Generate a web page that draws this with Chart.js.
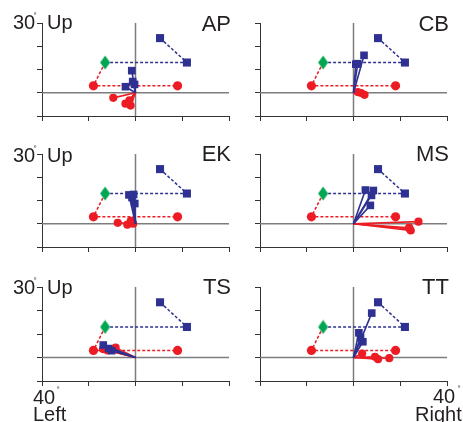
<!DOCTYPE html>
<html><head><meta charset="utf-8">
<script src="https://cdn.jsdelivr.net/npm/chart.js@4.4.1/dist/chart.umd.min.js"></script>
<style>
body{margin:0;background:#fff;width:463px;height:422px;overflow:hidden;position:relative;font-family:"Liberation Sans",Arial,sans-serif;color:#231f20}
canvas{position:absolute}
.t{position:absolute;white-space:nowrap;line-height:1}
</style></head><body>
<script>
// ---- data ----
const PANEL_NAMES = ['AP', 'CB', 'EK', 'MS', 'TS', 'TT'];
const X_RANGE = [-40, 40];
const X_STEP = 20;
const Y_RANGE = [-10, 30];
const Y_STEP = 10;
const ORIGIN = [0, 0];
const START_POS = [-13, 13];                 // green diamond
const BLUE_TARGETS = [[22, 13], [10.5, 23.5]];
const RED_TARGETS = [[-18, 3], [18, 3]];

const AP_BLUE = [[-1.6, 9.5], [-4.3, 2.6], [-0.4, 3.6], [-1.2, 4.8]];
const AP_RED  = [[-9.5, -2.2], [-4.3, -4.7], [-2.1, -5.5], [-2.6, -3.3]];
const CB_BLUE = [[4.5, 16.1], [1.8, 12.5], [1.0, 12.3]];
const CB_RED  = [[1.8, 0.3], [3.3, -0.1], [4.7, -0.9]];
const EK_BLUE = [[-2.8, 12.4], [-0.8, 12.6], [-0.3, 8.7], [-1.5, 11.3]];
const EK_RED  = [[-7.6, 0.4], [-3.5, -0.4], [-2.0, 1.3], [-1.0, 0.0]];
const MS_BLUE = [[5.1, 14.5], [8.5, 14.3], [7.7, 12.2], [7.2, 7.9]];
const MS_RED  = [[27.8, 0.9], [23.8, -1.7], [24.5, -2.9], [24.0, -2.2]];
const TS_BLUE = [[-13.8, 5.3], [-10.2, 2.9], [-11.5, 3.8]];
const TS_RED  = [[-13.9, 3.6], [-8.5, 4.2], [-12.0, 3.0]];
const TT_BLUE = [[7.8, 18.9], [2.3, 10.5], [4.0, 6.7], [3.0, 8.5]];
const TT_RED  = [[3.7, 1.7], [9.2, 0.3], [10.5, -0.7], [15.3, -0.3]];

const BLUE_SETS = [AP_BLUE, CB_BLUE, EK_BLUE, MS_BLUE, TS_BLUE, TT_BLUE];
const RED_SETS  = [AP_RED, CB_RED, EK_RED, MS_RED, TS_RED, TT_RED];

// ---- styling / layout ----
const RED = '#ed1c24', BLUE = '#2e3192', GREEN = '#00a651';
const PLOT_W = 188;
const COL_LEFT = [42, 260];
const ROW_TOP = [23, 154, 287];
const ROW_H = [93, 93, 94];

const pt = a => ({x: a[0], y: a[1]});

// diamond marker
const diamond = document.createElement('canvas');
diamond.width = 11; diamond.height = 15;
(() => {
  const g = diamond.getContext('2d');
  g.fillStyle = GREEN;
  g.beginPath(); g.moveTo(5.5, 0.5); g.lineTo(10.5, 7.5); g.lineTo(5.5, 14.5); g.lineTo(0.5, 7.5); g.closePath(); g.fill();
})();

const zeroLines = {
  id: 'zeroLines',
  beforeDatasetsDraw(chart) {
    const {ctx, chartArea: a, scales: {x, y}} = chart;
    const px = x.getPixelForValue(ORIGIN[0]), py = y.getPixelForValue(ORIGIN[1]);
    ctx.save();
    ctx.strokeStyle = '#7d7d7d'; ctx.lineWidth = 1.5;
    ctx.beginPath();
    ctx.moveTo(px, a.top); ctx.lineTo(px, a.bottom);
    ctx.moveTo(a.left, py); ctx.lineTo(a.right, py);
    ctx.stroke();
    ctx.restore();
  }
};

function makeChart(i) {
  const col = i % 2, row = Math.floor(i / 2);
  const L = COL_LEFT[col], T = ROW_TOP[row], H = ROW_H[row];
  const cw = PLOT_W + 16, ch = H + 16;
  const c = document.createElement('canvas');
  c.width = cw; c.height = ch;
  c.style.left = (L - 10) + 'px'; c.style.top = (T - 8) + 'px';
  c.style.width = cw + 'px'; c.style.height = ch + 'px';
  document.body.appendChild(c);

  const ds = [];
  ds.push({data: [pt(START_POS), pt(RED_TARGETS[0]), pt(RED_TARGETS[1])], showLine: true,
    borderColor: RED, borderWidth: 1.5, borderDash: [3, 2], pointRadius: [0, 4.6, 4.6],
    pointStyle: 'circle', pointBackgroundColor: RED, pointBorderWidth: 0, order: 10});
  ds.push({data: [pt(START_POS), pt(BLUE_TARGETS[0]), pt(BLUE_TARGETS[1])], showLine: true,
    borderColor: BLUE, borderWidth: 1.5, borderDash: [3, 2], pointRadius: [0, 5.7, 5.7],
    pointStyle: 'rect', pointBackgroundColor: BLUE, pointBorderWidth: 0, order: 9});
  RED_SETS[i].forEach(r => ds.push({data: [pt(ORIGIN), pt(r)], showLine: true,
    borderColor: RED, borderWidth: 1.6, pointRadius: [0, 4.1], pointStyle: 'circle',
    pointBackgroundColor: RED, pointBorderWidth: 0, order: 6}));
  BLUE_SETS[i].forEach(b => ds.push({data: [pt(ORIGIN), pt(b)], showLine: true,
    borderColor: BLUE, borderWidth: 1.6, pointRadius: [0, 5.4], pointStyle: 'rect',
    pointBackgroundColor: BLUE, pointBorderWidth: 0, order: 5}));
  ds.push({data: [pt(START_POS)], pointStyle: diamond, pointRadius: 6, order: 1});

  new Chart(c, {
    type: 'scatter',
    data: {datasets: ds},
    options: {
      responsive: false, animation: false, devicePixelRatio: 1,
      layout: {padding: {left: 5, top: 8, right: 6, bottom: 3}},
      plugins: {legend: {display: false}, tooltip: {enabled: false}},
      scales: {
        x: {type: 'linear', min: X_RANGE[0], max: X_RANGE[1],
          ticks: {display: false, stepSize: X_STEP},
          grid: {drawOnChartArea: false, drawTicks: true, tickLength: 5, color: '#333', lineWidth: 1},
          border: {display: true, color: '#333', width: 1},
          afterFit(s) { s.height = 5; }},
        y: {type: 'linear', min: Y_RANGE[0], max: Y_RANGE[1],
          ticks: {display: false, stepSize: Y_STEP},
          grid: {drawOnChartArea: false, drawTicks: true, tickLength: 5, color: '#333', lineWidth: 1},
          border: {display: true, color: '#333', width: 1},
          afterFit(s) { s.width = 5; }}
      }
    },
    plugins: [zeroLines]
  });
}

function text(str, x, base, size, align) {
  const d = document.createElement('div');
  d.className = 't';
  d.textContent = str;
  d.style.fontSize = size + 'px';
  d.style.top = (base - 0.8465 * size) + 'px';
  if (align === 'right') d.style.right = (463 - x) + 'px';
  else d.style.left = x + 'px';
  document.body.appendChild(d);
}
function deg(cx, cy) {
  const d = document.createElement('div');
  d.className = 't'; d.textContent = '°';
  d.style.fontSize = '8px';
  d.style.left = (cx - 1.6) + 'px'; d.style.top = (cy - 2.2) + 'px';
  document.body.appendChild(d);
}

for (let i = 0; i < PANEL_NAMES.length; i++) makeChart(i);

const NAME_BASE = [32, 162, 295];
const UP_BASE = [29, 162, 294];
for (let r = 0; r < 3; r++) {
  text('30', 13, UP_BASE[r], 20);
  deg(35, UP_BASE[r] - 15);
  text('Up', 47, UP_BASE[r], 20);
  text(PANEL_NAMES[2 * r], 231, NAME_BASE[r], 22, 'right');
  text(PANEL_NAMES[2 * r + 1], 449, NAME_BASE[r], 22, 'right');
}
text('40', 33, 404, 20);
deg(58, 388);
text('Left', 33, 421, 20);
text('40', 433, 403, 20);
deg(459, 387);
text('Right', 415, 421, 20);
</script>
</body></html>
